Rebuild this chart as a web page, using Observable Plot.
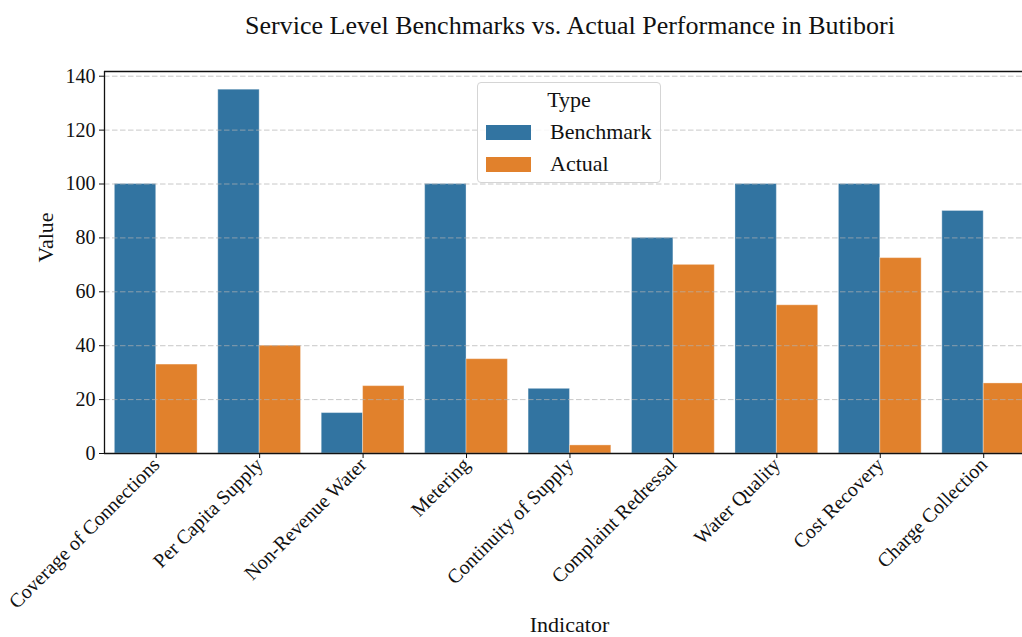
<!DOCTYPE html>
<html>
<head>
<meta charset="utf-8">
<script src="https://cdn.jsdelivr.net/npm/d3@7"></script>
<script src="https://cdn.jsdelivr.net/npm/@observablehq/plot@0.6"></script>
<style>
  html, body { margin: 0; padding: 0; background: #fff; overflow: hidden; }
  #wrap { position: relative; width: 1022px; height: 637px; font-family: "Liberation Serif", "Times New Roman", serif; }
  #legend { position: absolute; left: 477px; top: 82px; width: 184px; height: 101px; border: 1px solid #d5d5d5; border-radius: 4px; background: rgba(255,255,255,0.85); box-sizing: border-box; font-size: 22px; color: #111; }
  #legend .ttl { position: absolute; top: 4px; left: 0; width: 100%; text-align: center; }
  #legend .row { position: absolute; left: 8px; height: 26px; display: flex; align-items: center; }
  #legend .sw { width: 45px; height: 15px; margin-right: 19px; }
</style>
</head>
<body>
<div id="wrap"></div>
<script>
const indicators = ["Coverage of Connections", "Per Capita Supply", "Non-Revenue Water", "Metering", "Continuity of Supply", "Complaint Redressal", "Water Quality", "Cost Recovery", "Charge Collection"];
const types = ["Benchmark", "Actual"];
const benchmark = [100, 135, 15, 100, 24, 80, 100, 100, 90];
const actual = [33, 40, 25, 35, 3, 70, 55, 72.5, 26];
const colors = ["#3274a1", "#e1812c"];
const yTicks = [0, 20, 40, 60, 80, 100, 120, 140];
const title = "Service Level Benchmarks vs. Actual Performance in Butibori";

const barWidth = 0.4; // seaborn dodge: 0.8 total group width
const rows = [];
indicators.forEach((ind, i) => {
  [benchmark, actual].forEach((series, k) => {
    rows.push({indicator: ind, i, type: types[k], value: series[i],
      x1: i - barWidth + k * barWidth, x2: i + k * barWidth});
  });
});
const yMax = d3.max(rows, d => d.value) * 1.05;

const chart = Plot.plot({
  width: 1022,
  height: 637,
  marginTop: 71,
  marginLeft: 104,
  marginRight: 0,
  marginBottom: 184,
  style: {fontFamily: "'Liberation Serif', 'Times New Roman', serif", color: "#111", background: "#fff"},
  x: {domain: [-0.5, 8.375]},
  y: {domain: [0, yMax]},
  color: {domain: types, range: colors},
  marks: [
    Plot.rectY(rows, {x1: "x1", x2: "x2", y1: 0, y2: "value", fill: "type", stroke: "#fff", strokeOpacity: 0.35, strokeWidth: 1, clip: true}),
    Plot.gridY(yTicks, {stroke: "#b0b0b0", strokeOpacity: 0.7, strokeDasharray: "5.5,2.5", strokeWidth: 1}),
    Plot.axisY(yTicks, {tickSize: 5, fontSize: 20, tickPadding: 4, label: null}),
    Plot.axisX(indicators.map((d, i) => i), {tickFormat: i => indicators[i], tickRotate: -45, tickSize: 5, fontSize: 20, tickPadding: 3, label: null}),
    Plot.text(["Value"], {frameAnchor: "left", dx: -59, rotate: -90, fontSize: 22, lineAnchor: "middle"}),
    Plot.text(["Indicator"], {frameAnchor: "bottom", dx: 6, dy: 171, fontSize: 22, lineAnchor: "middle"}),
    Plot.text([title], {frameAnchor: "top", dx: 6.5, dy: -46, fontSize: 26, lineAnchor: "middle"}),
    Plot.ruleX([-0.5], {stroke: "#111", strokeWidth: 1.3}),
    Plot.ruleY([0, yMax], {stroke: "#111", strokeWidth: 1.3})
  ]
});
const wrap = document.getElementById("wrap");
wrap.appendChild(chart);

const legend = document.createElement("div");
legend.id = "legend";
legend.innerHTML = `<div class="ttl">Type</div>` + types.map((t, k) =>
  `<div class="row" style="top:${36 + k * 32}px"><div class="sw" style="background:${colors[k]}"></div><span>${t}</span></div>`).join("");
wrap.appendChild(legend);
</script>
</body>
</html>
